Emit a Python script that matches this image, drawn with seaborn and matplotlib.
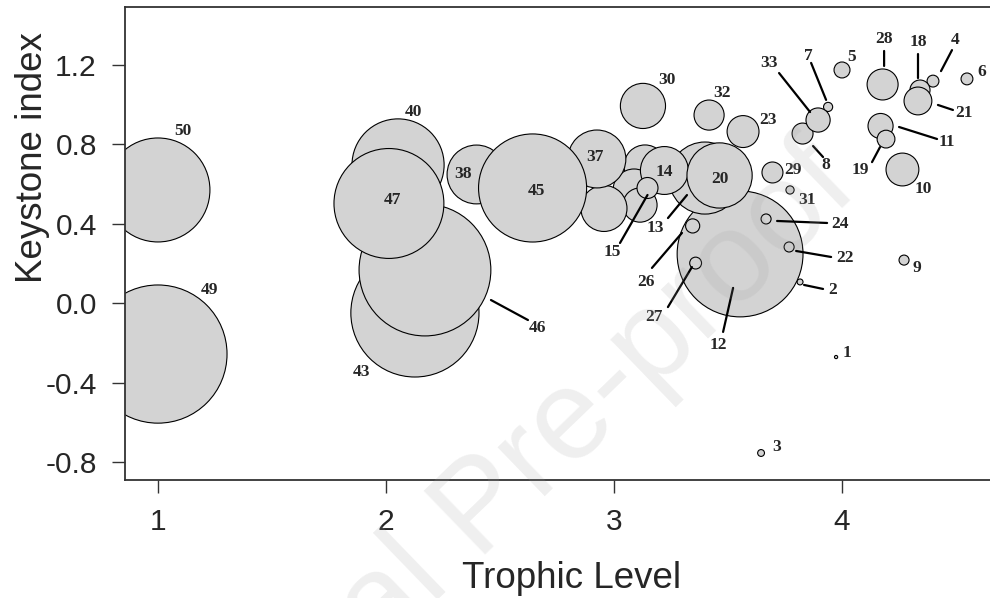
import matplotlib
matplotlib.use("Agg")
import matplotlib.pyplot as plt
import pandas as pd
import seaborn as sns
from matplotlib.transforms import offset_copy

# nodes in drawing order (unlabelled ones first)
node = [34, 35, 36, 44, 1, 2, 3, 4, 5, 6, 7, 8, 9, 10, 11, 12, 13, 14, 15, 18,
        19, 20, 21, 22, 23, 24, 26, 27, 28, 29, 30, 31, 32, 33, 37, 38, 40, 43,
        45, 46, 47, 49, 50]
trophic = [3.136, 3.088, 3.114, 2.956, 3.974, 3.816, 3.645, 4.399, 4.000, 4.548,
           3.939, 3.827, 4.272, 4.265, 4.169, 3.553, 3.399, 3.221, 3.147, 4.342,
           4.193, 3.463, 4.333, 3.768, 3.566, 3.667, 3.345, 3.358, 4.178, 3.695,
           3.127, 3.772, 3.417, 3.895, 2.925, 2.397, 2.053, 2.127, 2.643, 2.171,
           2.013, 1.000, 1.000]
keystone = [0.692, 0.571, 0.495, 0.478, -0.270, 0.108, -0.753, 1.119, 1.175, 1.130,
            0.989, 0.855, 0.218, 0.674, 0.893, 0.249, 0.631, 0.669, 0.581, 1.074,
            0.827, 0.644, 1.019, 0.284, 0.865, 0.425, 0.390, 0.203, 1.102, 0.659,
            0.994, 0.571, 0.948, 0.923, 0.727, 0.649, 0.697, -0.048, 0.581, 0.168,
            0.503, -0.255, 0.571]
# bubble radius, in trophic-level units
radius = [0.092, 0.092, 0.075, 0.101, 0.007, 0.013, 0.015, 0.026, 0.035, 0.026,
          0.020, 0.046, 0.022, 0.072, 0.055, 0.276, 0.158, 0.105, 0.046, 0.044,
          0.039, 0.143, 0.061, 0.022, 0.070, 0.022, 0.031, 0.026, 0.068, 0.046,
          0.099, 0.018, 0.066, 0.053, 0.127, 0.129, 0.202, 0.281, 0.237, 0.289,
          0.241, 0.303, 0.228]
unlabelled = [34, 35, 36, 44]

# label placement: offset from the node centre in pixels (x right, y down)
label_off = {1: (11, -4), 2: (33, 8), 3: (16, -6), 4: (22, -41), 5: (10, -13),
             6: (15, -7), 7: (-20, -51), 8: (23.5, 31.5), 9: (13, 8), 10: (20.5, 19.5),
             11: (66.5, 16), 12: (-22, 91), 13: (-50, 50), 14: (0, 2), 15: (-35.5, 64),
             18: (-2, -48), 19: (-26, 31), 20: (0, 3.5), 21: (46, 12), 22: (56, 11),
             23: (25, -11.5), 24: (74, 5), 26: (-46.7, 56), 27: (-41.7, 54),
             28: (1.5, -45.5), 29: (20.5, -2.5), 30: (24, -26), 31: (17, 10),
             32: (13, -22), 33: (-49, -57), 37: (-2, -2), 38: (-13.5, 0), 40: (15, -53),
             43: (-53, 59), 45: (3.5, 3), 46: (113, 58), 47: (4, -3.5), 49: (52, -64),
             50: (25, -59)}
# leader lines: start and end offsets from the node centre in pixels
leaders = {2: (4, 3, 23, 7), 4: (8, -10, 19, -31), 7: (-2, -7, -17, -44),
           8: (10.5, 12.5, 20.5, 23.5), 11: (18.5, 1, 56.5, 13), 12: (-7, 34, -17, 78),
           13: (-18, 17, -37, 40), 15: (0, 7, -27.5, 55), 18: (-2, -36, -2, -12),
           19: (-6, 8, -14, 23), 21: (20, 4, 35, 9), 22: (7, 4, 42, 10),
           24: (11, 2, 61, 4), 26: (-10.7, 7, -40.7, 42), 27: (-3.7, 4, -27.7, 44),
           28: (1.5, -33.5, 1.5, -18.5), 33: (-8, -8, -39, -47), 46: (66, 30, 103, 50)}

df = pd.DataFrame({"node": node, "tl": trophic, "ki": keystone, "r": radius})

sns.set_style("ticks")
plt.rcParams["font.family"] = ["Liberation Sans", "DejaVu Sans"]

DPI = 100
fig = plt.figure(figsize=(9.9, 5.98), dpi=DPI)
ax = fig.add_axes([0.1266, 0.1973, 0.8734, 0.7915])
ax.set_xlim(0.857, 4.649)
ax.set_ylim(-0.889, 1.4935)

# convert radius (x units) to scatter marker area (points^2)
px_per_unit = ax.transData.transform((1, 0))[0] - ax.transData.transform((0, 0))[0]
df["area"] = (2 * df["r"] * px_per_unit * 72 / DPI) ** 2
sizes = {a: a for a in df["area"]}

sns.scatterplot(data=df, x="tl", y="ki", size="area", sizes=sizes, legend=False,
                color="lightgrey", edgecolor="black", linewidth=0.8, alpha=1,
                ax=ax, zorder=2)

k = 72 / DPI
for n, x, y in zip(node, trophic, keystone):
    if n in unlabelled:
        continue
    dx, dy = label_off[n]
    ax.annotate(str(n), (x, y), xytext=(dx * k, -dy * k), textcoords="offset points",
                ha="center", va="center", fontsize=12.5, fontweight="bold",
                family="Liberation Serif", zorder=4)
    if n in leaders:
        sx, sy, ex, ey = leaders[n]
        t0 = offset_copy(ax.transData, fig=fig, x=sx * k, y=-sy * k, units="points")
        t1 = offset_copy(ax.transData, fig=fig, x=ex * k, y=-ey * k, units="points")
        ax.annotate("", xy=(x, y), xycoords=t1, xytext=(x, y), textcoords=t0,
                    arrowprops=dict(arrowstyle="-", lw=1.6, color="black",
                                    shrinkA=0, shrinkB=0), zorder=4)

ax.set_xticks([1, 2, 3, 4])
ax.set_yticks([-0.8, -0.4, 0.0, 0.4, 0.8, 1.2])
ax.set_yticklabels(["-0.8", "-0.4", "0.0", "0.4", "0.8", "1.2"])
ax.tick_params(labelsize=21.5, length=9.5, width=1.0, pad=11, color="#333333")
ax.set_xlabel("Trophic Level", fontsize=26.5, labelpad=18)
ax.xaxis.label.set_x(0.5166)
ax.set_ylabel("Keystone index", fontsize=26.5)
ax.yaxis.set_label_coords(-0.087, 0.682)
for side in ["left", "bottom", "top"]:
    ax.spines[side].set_color("#333333")
    ax.spines[side].set_linewidth(1.3)
ax.spines["right"].set_visible(False)

# faint watermark
fig.text(838 / 990, 1 - 168 / 598, "Journal Pre-proof", rotation=44,
         rotation_mode="anchor", ha="right", va="center", fontsize=92,
         color="#a0a0a0", alpha=0.17, zorder=10)

fig.savefig("out.png", dpi=DPI)
